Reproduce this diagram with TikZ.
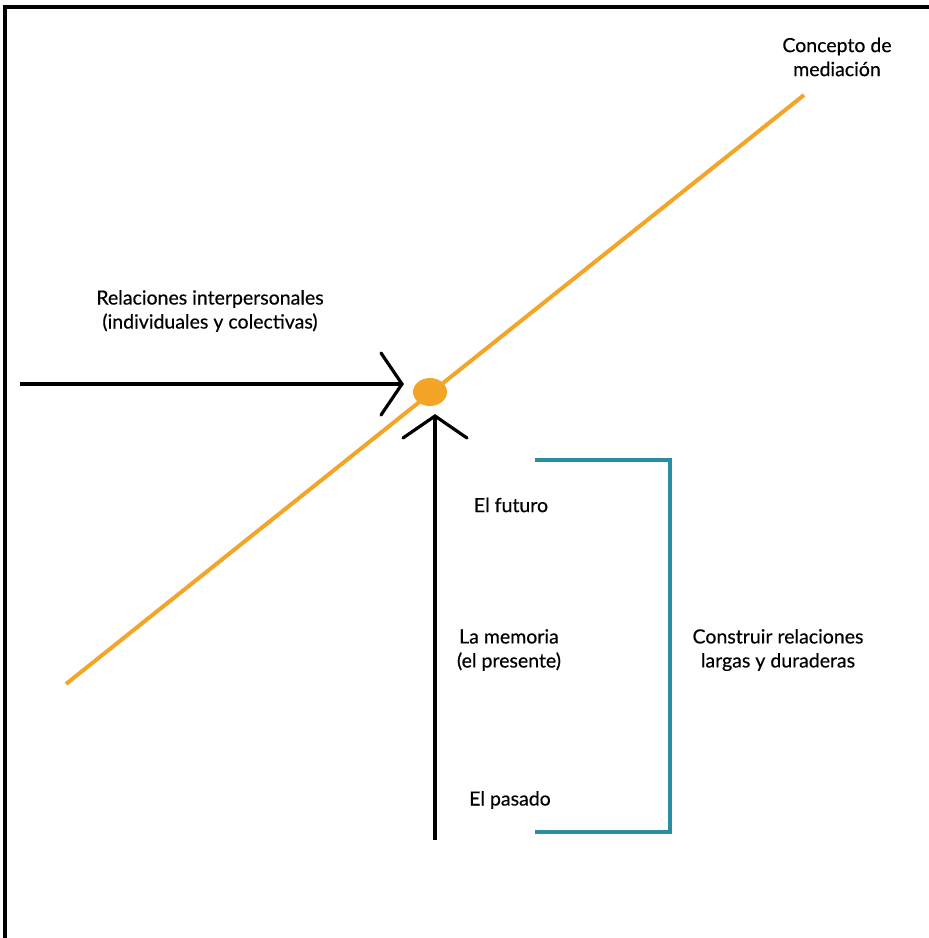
\documentclass[tikz,border=0pt]{standalone}
\usepackage{fontspec}
\setmainfont{Lato}[FakeBold=0.35]
\usetikzlibrary{shapes.geometric}
\begin{document}
\begin{tikzpicture}[x=1pt,y=-1pt,
  lbl/.style={font=\fontsize{19.5}{24}\selectfont, align=center, text=black, inner sep=0pt},
  frameline/.style={line width=4pt, black},
  axis/.style={line width=3.2pt, black},
  headline/.style={line width=3.2pt, black, line cap=round, line join=miter},
  diag/.style={line width=4pt, color=orangeline},
  bracket/.style={line width=3.5pt, color=tealline, line join=miter}]
\definecolor{orangeline}{HTML}{F2A527}
\definecolor{tealline}{HTML}{2B8DA3}
\useasboundingbox (0,0) rectangle (929,938);
\fill[white] (0,0) rectangle (929,938);

% outer frame: top and left edges only
\coordinate (ftl) at (4.5,6.5);
\coordinate (ftr) at (929,6.5);
\coordinate (fbl) at (4.5,938);
\draw[frameline] (ftr) -- (ftl) -- (fbl);

% diagonal mediation line and central point
\coordinate (dstart) at (66,684);
\coordinate (dend) at (804,95);
\draw[diag] (dstart) -- (dend);
\node[ellipse, fill=orangeline, minimum width=34pt, minimum height=28pt, inner sep=0pt] (hub) at (430,392) {};

% horizontal arrow into the point
\coordinate (hstart) at (20,384);
\coordinate (htip) at (402,384);
\draw[axis] (hstart) -- (htip);
\coordinate (hup) at (381,353);
\coordinate (hdn) at (381,415);
\draw[headline] (hup) -- (htip) -- (hdn);

% vertical arrow into the point
\coordinate (vstart) at (435,840);
\coordinate (vtip) at (435,416);
\draw[axis] (vstart) -- (vtip);
\coordinate (vl) at (403,438);
\coordinate (vr) at (467,438);
\draw[headline] (vl) -- (vtip) -- (vr);

% time bracket
\coordinate (btl) at (535,460);
\coordinate (btr) at (670,460);
\coordinate (bbr) at (670,832);
\coordinate (bbl) at (535,832);
\draw[bracket] (btl) -- (btr) -- (bbr) -- (bbl);

% labels
\node[lbl] (concepto) at (837,57) {Concepto de\\mediación};
\node[lbl] (relaciones) at (210,311) {Relaciones interpersonales\\(individuales y colectivas)};
\node[lbl] (futuro) at (511,505) {El futuro};
\node[lbl] (memoria) at (509,650) {La memoria\\(el presente)};
\node[lbl] (pasado) at (510,800) {El pasado};
\node[lbl] (construir) at (778,650) {Construir relaciones\\largas y duraderas};
\end{tikzpicture}
\end{document}
